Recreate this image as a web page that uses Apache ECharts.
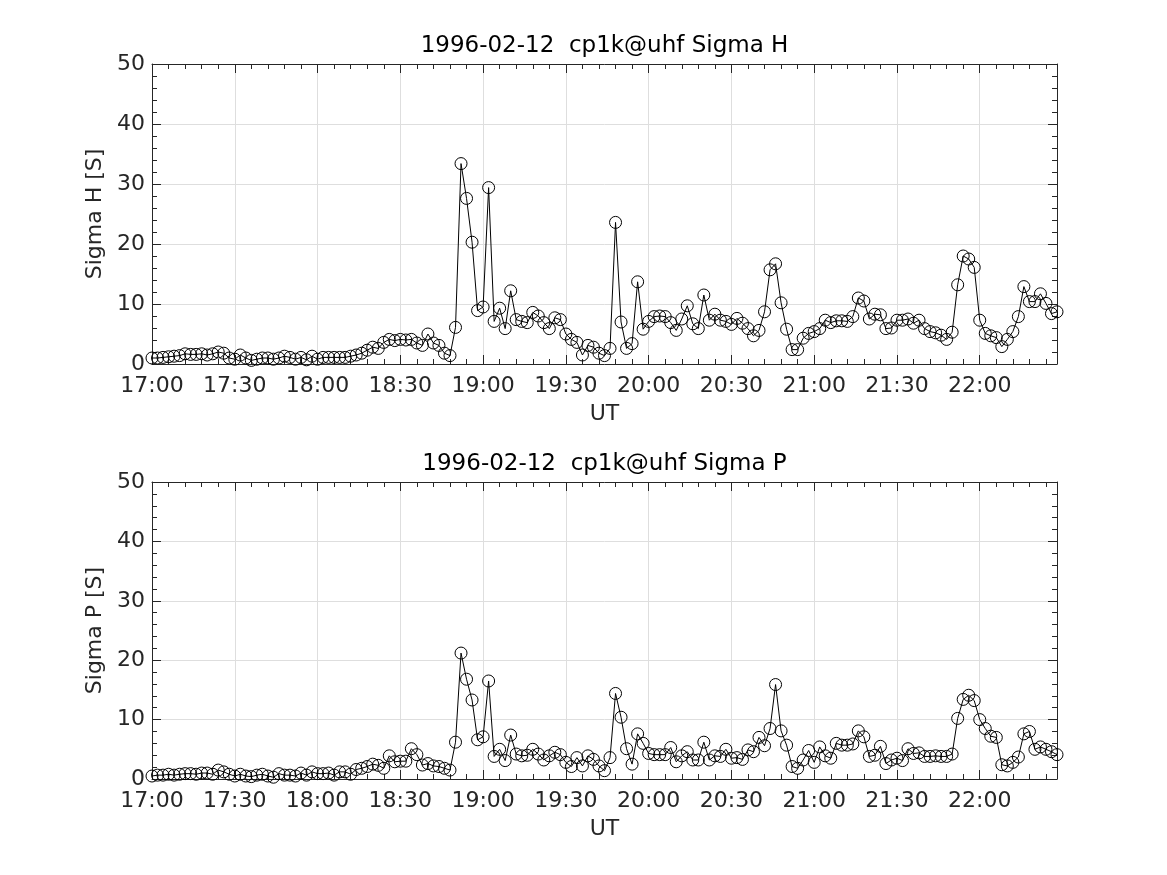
<!DOCTYPE html>
<html>
<head>
<meta charset="utf-8">
<script src="https://cdn.jsdelivr.net/npm/echarts@6/dist/echarts.min.js"></script>
<style>
  html, body { margin: 0; padding: 0; background: #ffffff; }
  #chart { width: 1167px; height: 875px; }
</style>
</head>
<body>
<div id="chart"></div>
<script>
// ---- Data ----
const titles = ['1996-02-12  cp1k@uhf Sigma H', '1996-02-12  cp1k@uhf Sigma P'];
const yNames = ['Sigma H [S]', 'Sigma P [S]'];
const xName = 'UT';
const xTickLabels = ['17:00','17:30','18:00','18:30','19:00','19:30','20:00','20:30','21:00','21:30','22:00'];
const yTickValues = [0, 10, 20, 30, 40, 50];
// sampling: one value every 2 minutes from 17:00 (minutes after 17:00)
const startMinute = 0;
const stepMinutes = 2;
const endMinute = 328; // 22:28

const sigmaH = [
  1.0, 1.0, 1.1, 1.2, 1.3, 1.4, 1.7, 1.6, 1.6, 1.7,
  1.5, 1.7, 2.0, 1.8, 1.0, 0.8, 1.5, 1.0, 0.6, 0.8,
  1.0, 1.0, 0.8, 1.0, 1.3, 1.1, 0.8, 1.1, 0.7, 1.3,
  0.8, 1.1, 1.1, 1.1, 1.1, 1.1, 1.3, 1.5, 1.8, 2.3,
  2.8, 2.6, 3.6, 4.1, 3.9, 4.1, 4.0, 4.1, 3.5, 3.1,
  5.0, 3.5, 3.1, 1.8, 1.4, 6.1, 33.4, 27.6, 20.3, 8.9,
  9.5, 29.4, 7.1, 9.3, 5.9, 12.2, 7.4, 7.1, 6.9, 8.6,
  8.0, 6.9, 5.9, 7.7, 7.4, 5.0, 4.1, 3.6, 1.5, 3.1,
  2.8, 1.8, 1.4, 2.6, 23.6, 7.0, 2.6, 3.4, 13.7, 5.8,
  7.1, 7.9, 8.0, 7.9, 6.9, 5.6, 7.5, 9.7, 6.7, 5.9,
  11.5, 7.3, 8.3, 7.3, 7.1, 6.6, 7.6, 6.8, 5.9, 4.7,
  5.6, 8.7, 15.7, 16.7, 10.2, 5.8, 2.4, 2.4, 4.3, 5.1,
  5.4, 5.9, 7.3, 6.9, 7.2, 7.2, 7.1, 7.9, 11.0, 10.5,
  7.5, 8.3, 8.2, 5.9, 6.0, 7.3, 7.3, 7.5, 6.8, 7.3,
  5.9, 5.4, 5.2, 4.8, 4.1, 5.3, 13.2, 18.0, 17.5, 16.1,
  7.3, 5.1, 4.7, 4.4, 2.9, 4.1, 5.4, 7.9, 12.9, 10.4,
  10.4, 11.7, 10.1, 8.4, 8.7
];

const sigmaP = [
  0.5, 0.65, 0.65, 0.8, 0.65, 0.8, 0.9, 0.9, 0.8, 1.0,
  1.0, 0.8, 1.5, 1.2, 0.8, 0.5, 0.8, 0.5, 0.4, 0.65,
  0.8, 0.5, 0.3, 0.9, 0.65, 0.65, 0.5, 1.0, 0.65, 1.2,
  0.9, 0.9, 1.0, 0.65, 1.2, 1.2, 0.8, 1.6, 1.8, 2.1,
  2.5, 2.3, 1.8, 3.9, 2.9, 3.0, 3.0, 5.1, 4.1, 2.35,
  2.6, 2.2, 2.1, 1.8, 1.5, 6.2, 21.2, 16.8, 13.3, 6.6,
  7.1, 16.5, 3.8, 5.0, 3.1, 7.4, 4.2, 3.9, 4.0, 5.0,
  4.2, 3.2, 3.9, 4.5, 4.1, 2.8, 2.1, 3.6, 2.2, 3.9,
  3.3, 2.2, 1.4, 3.6, 14.4, 10.4, 5.1, 2.5, 7.6, 6.0,
  4.3, 4.1, 4.1, 4.1, 5.3, 2.9, 3.9, 4.6, 3.2, 3.2,
  6.2, 3.2, 3.9, 3.8, 5.0, 3.5, 3.6, 3.3, 4.9, 4.6,
  7.0, 5.6, 8.5, 15.9, 8.1, 5.7, 2.1, 1.8, 3.2, 4.8,
  2.8, 5.4, 3.9, 3.5, 6.0, 5.7, 5.7, 5.9, 8.1, 7.1,
  3.8, 4.0, 5.5, 2.6, 3.2, 3.5, 3.1, 5.1, 4.3, 4.4,
  3.8, 3.8, 3.9, 3.8, 3.8, 4.2, 10.2, 13.4, 14.1, 13.2,
  10.0, 8.5, 7.2, 7.0, 2.4, 2.2, 2.8, 3.7, 7.6, 8.0,
  5.0, 5.4, 5.0, 4.6, 4.1
];

// ---- Build chart ----
const times = sigmaH.map((_, i) => startMinute + i * stepMinutes);
const seriesValues = [sigmaH, sigmaP];

const FONT = 'DejaVu Sans';
const TXT = '#262626';
const AX = '#262626';
const GRIDC = '#dedede';

const grids = [
  { left: 152, top: 64, width: 905, height: 300 },
  { left: 152, top: 482, width: 905, height: 297 }
];
const titleTops = [35, 453];

const xAxes = [];
const yAxes = [];
const series = [];
const titleOpts = [];

grids.forEach((g, gi) => {
  const base = { gridIndex: gi, type: 'value', min: startMinute, max: endMinute };
  // major bottom
  xAxes.push(Object.assign({}, base, {
    position: 'bottom', interval: 30,
    axisLine: { show: true, onZero: false, lineStyle: { color: AX, width: 1 } },
    axisTick: { show: true, inside: true, length: 9, lineStyle: { color: AX, width: 1 } },
    axisLabel: {
      show: true, margin: 11, fontSize: 22, fontFamily: FONT, color: TXT,
      showMaxLabel: false,
      formatter: v => (v % 30 === 0 && v / 30 < xTickLabels.length) ? xTickLabels[v / 30] : ''
    },
    splitLine: { show: true, lineStyle: { color: GRIDC, width: 1 } },
    name: xName, nameLocation: 'middle', nameGap: 39,
    nameTextStyle: { fontSize: 22, fontFamily: FONT, color: TXT }
  }));
  // minor bottom
  xAxes.push(Object.assign({}, base, {
    position: 'bottom', interval: 6,
    axisLine: { show: false, onZero: false },
    axisTick: { show: true, inside: true, length: 5, lineStyle: { color: AX, width: 1 } },
    axisLabel: { show: false }, splitLine: { show: false }
  }));
  // major top
  xAxes.push(Object.assign({}, base, {
    position: 'top', interval: 30,
    axisLine: { show: true, onZero: false, lineStyle: { color: AX, width: 1 } },
    axisTick: { show: true, inside: true, length: 9, lineStyle: { color: AX, width: 1 } },
    axisLabel: { show: false }, splitLine: { show: false }
  }));
  // minor top
  xAxes.push(Object.assign({}, base, {
    position: 'top', interval: 6,
    axisLine: { show: false, onZero: false },
    axisTick: { show: true, inside: true, length: 5, lineStyle: { color: AX, width: 1 } },
    axisLabel: { show: false }, splitLine: { show: false }
  }));

  const ybase = {
    gridIndex: gi, type: 'value',
    min: yTickValues[0], max: yTickValues[yTickValues.length - 1],
    interval: yTickValues[1] - yTickValues[0],
    axisLine: { show: true, onZero: false, lineStyle: { color: AX, width: 1 } },
    axisTick: { show: true, inside: true, length: 9, lineStyle: { color: AX, width: 1 } },
    minorTick: { show: true, splitNumber: 5, length: 5, lineStyle: { color: AX, width: 1 } }
  };
  yAxes.push(Object.assign({}, ybase, {
    position: 'left',
    axisLabel: { show: true, margin: 7, fontSize: 22, fontFamily: FONT, color: TXT },
    splitLine: { show: true, lineStyle: { color: GRIDC, width: 1 } },
    name: yNames[gi], nameLocation: 'middle', nameGap: 41,
    nameTextStyle: { fontSize: 22, fontFamily: FONT, color: TXT }
  }));
  yAxes.push(Object.assign({}, ybase, {
    position: 'right',
    axisLabel: { show: false },
    splitLine: { show: false }
  }));

  series.push({
    type: 'line',
    xAxisIndex: gi * 4,
    yAxisIndex: gi * 2,
    data: times.map((t, i) => [t, seriesValues[gi][i]]),
    symbol: 'circle',
    symbolSize: 12,
    showSymbol: true,
    showAllSymbol: true,
    clip: false,
    itemStyle: { color: 'rgba(0,0,0,0)', borderColor: '#000', borderWidth: 1 },
    lineStyle: { color: '#000', width: 1 },
    emphasis: { disabled: true },
    z: 3
  });

  titleOpts.push({
    text: titles[gi],
    left: g.left + g.width / 2,
    top: titleTops[gi],
    textAlign: 'center',
    padding: 0,
    textStyle: { fontSize: 23, fontWeight: 'normal', fontFamily: FONT, color: '#000' }
  });
});

const chart = echarts.init(document.getElementById('chart'), null, { renderer: 'canvas' });
chart.setOption({
  backgroundColor: '#ffffff',
  animation: false,
  title: titleOpts,
  grid: grids,
  xAxis: xAxes,
  yAxis: yAxes,
  series: series
});
</script>
</body>
</html>
